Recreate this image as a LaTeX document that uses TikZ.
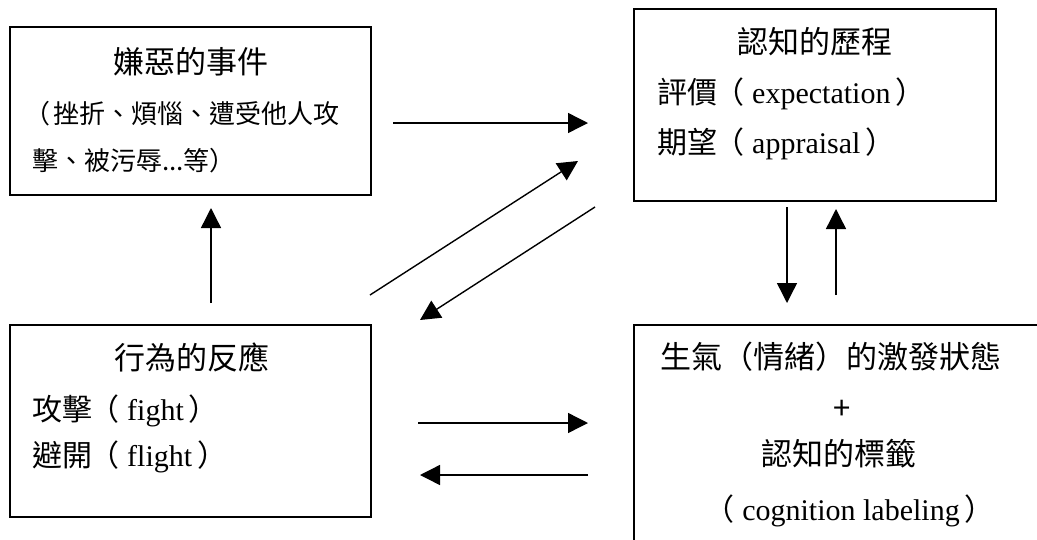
\documentclass[tikz,border=0pt]{standalone}
\usepackage{fontspec}
\setmainfont{Liberation Serif}
\newfontfamily\cjk{Noto Sans CJK TC}
\usetikzlibrary{arrows.meta}

\newcommand{\zh}[1]{{\cjk #1}}
\newcommand{\lpar}{{\cjk\kern-3pt（\kern3pt}}

\tikzset{
  box/.style={draw, line width=1.6pt, inner sep=0pt},
  head/.style={font=\cjk\fontsize{31}{31}\selectfont, inner sep=0pt, anchor=base},
  line/.style={font=\fontsize{30}{30}\selectfont, inner sep=0pt, anchor=base west},
  small/.style={font=\cjk\fontsize{26}{26}\selectfont, inner sep=0pt, anchor=base west},
  flow/.style={line width=1.4pt, -{Triangle[length=20pt,width=20pt]}}
}

\begin{document}
\begin{tikzpicture}[x=1pt, y=-1pt]
\useasboundingbox (0,0) rectangle (1037,539);
\clip (0,0) rectangle (1037,539);

% the four boxes
\node[box, minimum width=361pt, minimum height=168pt] (event) at (190.5,111) {};
\node[box, minimum width=362pt, minimum height=192pt] (appraise) at (815,105) {};
\node[box, minimum width=361pt, minimum height=192pt] (react) at (190.5,421) {};
\node[box, minimum width=440pt, minimum height=260pt] (arousal) at (854,455) {};

% texts
\node[head] (eventT) at (190.5,73) {嫌惡的事件};
\node[small] (eventA) at (27,123) {\lpar 挫折、煩惱、遭受他人攻};
\node[small] (eventB) at (32,170) {擊、被污辱...等）};

\node[head] (appraiseT) at (815,53) {認知的歷程};
\node[line] (appraiseA) at (657,103.5) {\zh{評價}\lpar\,expectation\,\zh{）}};
\node[line] (appraiseB) at (657,153.5) {\zh{期望}\lpar\,appraisal\,\zh{）}};

\node[head] (reactT) at (191.5,369.5) {行為的反應};
\node[line] (reactA) at (32,420.5) {\zh{攻擊}\lpar\,fight\,\zh{）}};
\node[line] (reactB) at (32,466.5) {\zh{避開}\lpar\,flight\,\zh{）}};

\node[head] (arousalT) at (831,368.5) {生氣（情緒）的激發狀態};
\node[head] (arousalP) at (842,419) {+};
\node[head] (arousalL) at (839,465.5) {認知的標籤};
\node[font=\fontsize{30}{30}\selectfont, inner sep=0pt, anchor=base] (arousalE) at (851,520) {\lpar\,cognition labeling\,\zh{）}};

% arrow ends
\coordinate (ev1) at (393,123);
\coordinate (ap1) at (588,123);
\coordinate (rc1) at (370,295);
\coordinate (ap2) at (578,161);
\coordinate (ap3) at (595,207);
\coordinate (rc2) at (420,320);
\coordinate (ap4) at (787,207);
\coordinate (ar1) at (787,303);
\coordinate (ar2) at (836,295);
\coordinate (ap5) at (836,209);
\coordinate (rc3) at (211,303);
\coordinate (ev2) at (211,208);
\coordinate (rc4) at (418,423);
\coordinate (ar3) at (588,423);
\coordinate (ar4) at (588,475);
\coordinate (rc5) at (420,475);

\draw[flow] (ev1) -- (ap1);
\draw[flow] (rc1) -- (ap2);
\draw[flow] (ap3) -- (rc2);
\draw[flow] (ap4) -- (ar1);
\draw[flow] (ar2) -- (ap5);
\draw[flow] (rc3) -- (ev2);
\draw[flow] (rc4) -- (ar3);
\draw[flow] (ar4) -- (rc5);
\end{tikzpicture}
\end{document}
